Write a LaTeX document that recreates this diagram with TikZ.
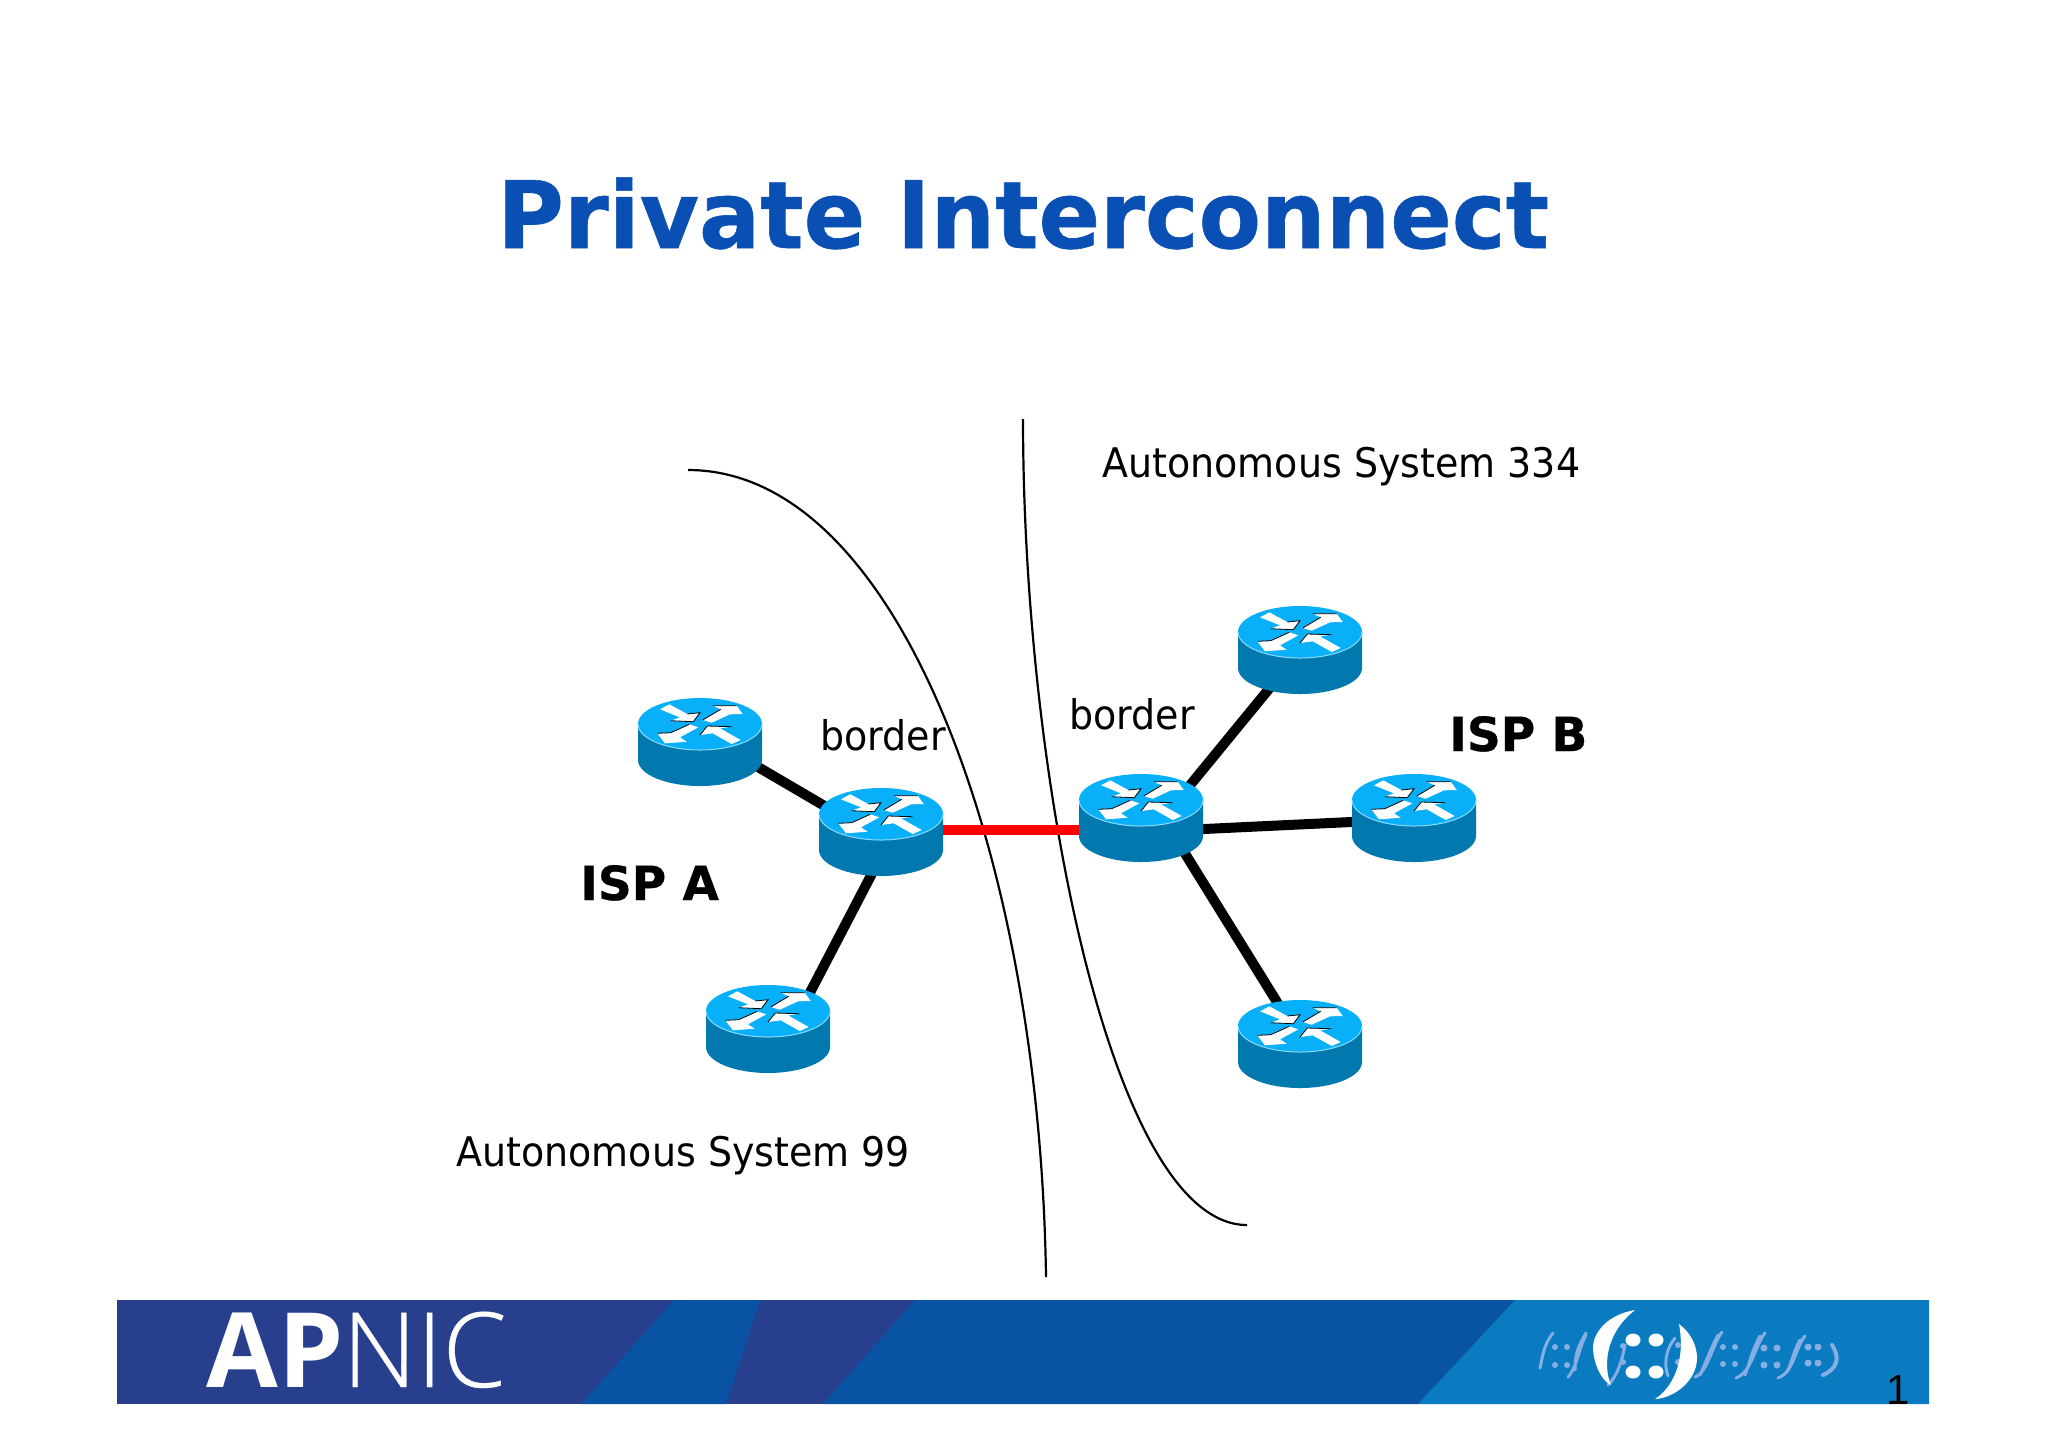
\documentclass[tikz,border=0pt]{standalone}
\usepackage{fontspec}
\setmainfont{DejaVu Sans}
\newfontfamily\logofont{Open Sans}
\newfontfamily\nicfont[FakeStretch=0.99,FakeBold=0.4]{Open Sans Light}
\newfontfamily\numfont{Liberation Sans}
\newfontfamily\labelfont[FakeStretch=0.931]{DejaVu Sans}
\newfontfamily\titlefont[FakeStretch=0.976,FakeBold=0.6]{DejaVu Sans}
\newfontfamily\ispfont[FakeBold=0.6]{DejaVu Sans}
\definecolor{titleblue}{HTML}{0A50B4}
\definecolor{rtop}{HTML}{08B0FA}
\definecolor{rbody}{HTML}{0279AE}
\definecolor{rrim}{HTML}{8ADBFF}
\definecolor{bdark}{HTML}{273F8C}
\definecolor{bmid}{HTML}{0853A4}
\definecolor{blight}{HTML}{0A7BC1}
\definecolor{bpale}{HTML}{86AEE2}
\tikzset{
  x=0.5pt,y=-0.5pt,
  hub/.style={inner sep=0pt,minimum size=0pt},
  link/.style={line width=5pt,black},
  peerlink/.style={line width=4.7pt,red},
  boundary/.style={line width=1.1pt,black},
  label/.style={anchor=base west,inner sep=0pt,font=\fontsize{20.4}{24}\selectfont\labelfont},
  isp/.style={anchor=base west,inner sep=0pt,font=\fontsize{23.5}{28}\selectfont\ispfont\bfseries},
  arrowwhite/.style={fill=white,draw=none},
  arrowshade/.style={draw=black,line width=0.4pt},
  swoosh/.style={draw=bpale,line width=1.5pt,line cap=round},
  router/.pic={
    \fill[rbody] (-62,0) -- (-62,36) .. controls (-62,50.4) and (-34,62) .. (0,62) .. controls (34,62) and (62,50.4) .. (62,36) -- (62,0) -- cycle;
    \fill[rtop] (0,0) ellipse[x radius=62,y radius=26];
    \draw[rrim,line width=0.5pt] (-62,0) .. controls (-62,14.4) and (-34,26) .. (0,26) .. controls (34,26) and (62,14.4) .. (62,0);
    \fill[arrowwhite] (-40,-14.7)--(-30.7,-19.7)--(-12.7,-10)--(0,-11.3)--(-6.7,-2.3)--(-29.3,-3.3)--(-20,-6.7)--cycle;
    \fill[arrowwhite] (2.7,-4)--(20.7,-14.7)--(12.7,-18.3)--(36.7,-18.3)--(42.7,-10)--(30,-9.7)--(11.7,-1.3)--cycle;
    \fill[arrowwhite] (-1.7,3.3)--(-20,13.3)--(-13.3,17.7)--(-35,19.3)--(-42.7,9.3)--(-29.3,8.7)--(-10.7,0.3)--cycle;
    \fill[arrowwhite] (40.7,16)--(20,4.3)--(31.7,2.7)--(7.3,2)--(0,11)--(12.7,9.3)--(31.7,20)--cycle;
    \draw[arrowshade] (-12.7,-10)--(0,-11.3)--(-6.7,-2.3)--(-29.3,-3.3);
    \draw[arrowshade] (2.7,-4)--(20.7,-14.7) (12.7,-18.3)--(36.7,-18.3);
    \draw[arrowshade] (-42.7,9.3)--(-29.3,8.7)--(-10.7,0.3);
    \draw[arrowshade] (0,11)--(7.3,2)--(31.7,2.7);
  }
}
\newcommand{\logodot}[3]{\fill[#3] (#1,#2) circle[radius=3];}
\begin{document}
\begin{tikzpicture}
\useasboundingbox (0,0) rectangle (2048,1447);
\fill[white] (0,0) rectangle (2048,1447);
% banner
\fill[bdark] (117,1300) rectangle (1929,1404);
\fill[bmid] (674,1300) -- (760,1300) -- (726,1404) -- (581,1404) -- cycle;
\fill[bmid] (915,1300) -- (1515,1300) -- (1418,1404) -- (823,1404) -- cycle;
\fill[blight] (1515,1300) -- (1929,1300) -- (1929,1404) -- (1418,1404) -- cycle;
\node[anchor=base west,inner sep=0pt,text=white,font=\fontsize{52}{60}\selectfont\logofont\bfseries] (logoa) at (206,1387) {AP};
\node[anchor=base west,inner sep=0pt,text=white,font=\fontsize{52}{60}\selectfont\nicfont] (logob) at (342,1387) {NIC};
% pale logo pattern
\draw[swoosh] (1553,1333) .. controls (1543,1345) and (1542,1360) .. (1540,1368);
\draw[swoosh] (1586,1335) .. controls (1578,1350) and (1578,1365) .. (1568,1377);
\draw[swoosh] (1586,1333) .. controls (1579,1345) and (1575,1352) .. (1575,1370);
\draw[swoosh] (1625,1345) .. controls (1622,1360) and (1618,1375) .. (1608,1385);
\draw[swoosh] (1675,1338) .. controls (1665,1350) and (1664,1365) .. (1668,1376);
\draw[swoosh] (1722,1332) .. controls (1712,1345) and (1708,1372) .. (1695,1377);
\draw[swoosh] (1718,1335) .. controls (1710,1350) and (1706,1362) .. (1700,1375);
\draw[swoosh] (1765,1333) .. controls (1755,1345) and (1752,1372) .. (1736,1378);
\draw[swoosh] (1760,1336) .. controls (1752,1350) and (1750,1362) .. (1745,1375);
\draw[swoosh] (1805,1336) .. controls (1795,1348) and (1794,1372) .. (1778,1378);
\draw[swoosh] (1800,1340) .. controls (1794,1350) and (1792,1362) .. (1787,1372);
\draw[swoosh,line width=2pt] (1832,1345) .. controls (1840,1358) and (1838,1368) .. (1823,1375);
\foreach \px/\py in {1555/1347,1567/1347,1555/1365,1567/1365,1623/1346,1623/1362,1678/1345,1678/1362,1723/1347,1735/1347,1723/1364,1735/1364}
  \logodot{\px}{\py}{bpale};
\foreach \px/\py in {1764/1348,1777/1348,1764/1365,1777/1365,1808/1347,1818/1347,1808/1363,1818/1363}
  \fill[bpale] (\px,\py) circle[radius=3.5];
% main logo
\fill[white] (1635,1310) .. controls (1605,1315) and (1593,1335) .. (1593,1347) .. controls (1593,1365) and (1603,1382) .. (1611,1385) .. controls (1604,1370) and (1603,1335) .. (1635,1310) -- cycle;
\fill[white] (1679,1324) .. controls (1690,1332) and (1697,1345) .. (1697,1358) .. controls (1697,1380) and (1675,1398) .. (1655,1399) .. controls (1672,1388) and (1686,1362) .. (1679,1324) -- cycle;
\foreach \px/\py in {1633/1340,1656/1340,1633/1372,1656/1372}
  \fill[white] (\px,\py) ellipse[x radius=7.5,y radius=6.5];
% title
\node[anchor=base west,inner sep=0pt,text=titleblue,font=\fontsize{46.5}{56}\selectfont\titlefont\bfseries] (title) at (497,248) {Private Interconnect};
% boundaries
\coordinate (leftTop) at (688,470);
\coordinate (leftEnd) at (1046,1277);
\coordinate (rightTop) at (1023,419);
\coordinate (rightEnd) at (1247,1225);
\draw[boundary] (leftTop) .. controls (900,470) and (1040,860) .. (leftEnd);
\draw[boundary] (rightTop) .. controls (1023,780) and (1112,1225) .. (rightEnd);
% router hubs
\node[hub] (ra1) at (700,742) {};
\node[hub] (ba) at (881,832) {};
\node[hub] (ra2) at (768,1029) {};
\node[hub] (bb) at (1141,818) {};
\node[hub] (rb1) at (1300,650) {};
\node[hub] (rb2) at (1414,818) {};
\node[hub] (rb3) at (1300,1044) {};
% links
\draw[link] ([shift={(0,-9)}]ra1.center) -- ([shift={(0,7)}]ba.center);
\draw[link] ([shift={(-3,30)}]ba.center) -- ([shift={(23,0)}]ra2.center);
\draw[link] ([shift={(0,27)}]bb.center) -- ([shift={(0,1)}]rb1.center);
\draw[link] ([shift={(0,14)}]bb.center) -- ([shift={(0,1)}]rb2.center);
\draw[link] ([shift={(22,0)}]bb.center) -- ([shift={(3,0)}]rb3.center);
\draw[peerlink] ([shift={(0,-2)}]ba.center) -- ([shift={(0,12)}]bb.center);
% routers
\foreach \h in {ra1,ba,ra2,bb,rb1,rb2,rb3}
  \pic at ([shift={(0,-18)}]\h.center) {router};
% labels
\node[label] (as334) at (1102,477) {Autonomous System 334};
\node[label] (as99) at (456,1166) {Autonomous System 99};
\node[label] (bordera) at (820,750) {border};
\node[label] (borderb) at (1069,729) {border};
\node[isp] (ispa) at (580,900) {ISP A};
\node[isp] (ispb) at (1449,751) {ISP B};
\node[anchor=base west,inner sep=0pt,font=\fontsize{21}{24}\selectfont\numfont] (pagenum) at (1886,1404) {1};
\end{tikzpicture}
\end{document}
